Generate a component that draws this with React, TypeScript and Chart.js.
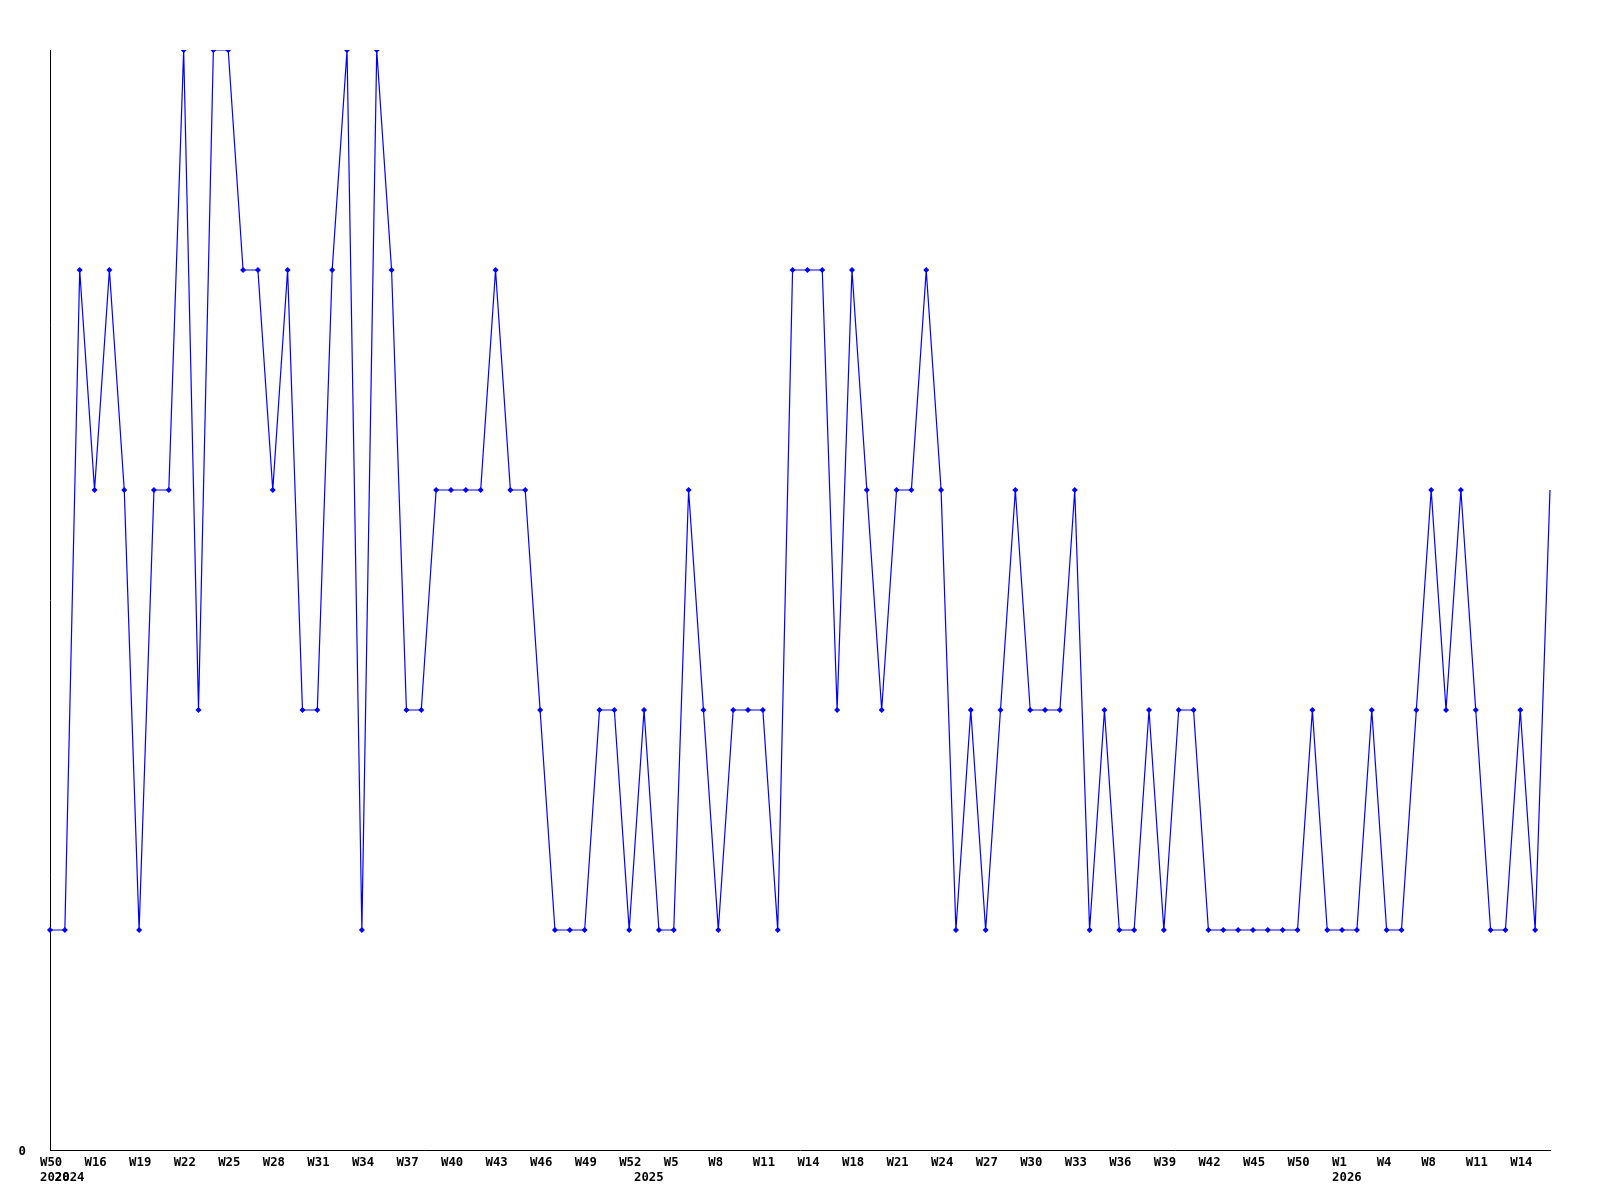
import React, { useEffect, useRef } from "react";
import { Chart, registerables } from "chart.js";

Chart.register(...registerables);

// Categories: year-week of each point
const categories: string[] = [
  "2020-W50",
  "2024-W14", "2024-W15", "2024-W16", "2024-W17", "2024-W18", "2024-W19", "2024-W20", "2024-W21", "2024-W22",
  "2024-W23", "2024-W24", "2024-W25", "2024-W26", "2024-W27", "2024-W28", "2024-W29", "2024-W30", "2024-W31",
  "2024-W32", "2024-W33", "2024-W34", "2024-W35", "2024-W36", "2024-W37", "2024-W38", "2024-W39", "2024-W40",
  "2024-W41", "2024-W42", "2024-W43", "2024-W44", "2024-W45", "2024-W46", "2024-W47", "2024-W48", "2024-W49",
  "2024-W50", "2024-W51", "2024-W52",
  "2025-W1", "2025-W3", "2025-W5", "2025-W6", "2025-W7", "2025-W8", "2025-W9", "2025-W10", "2025-W11",
  "2025-W12", "2025-W13", "2025-W14", "2025-W16", "2025-W17", "2025-W18", "2025-W19", "2025-W20", "2025-W21",
  "2025-W22", "2025-W23", "2025-W24", "2025-W25", "2025-W26", "2025-W27", "2025-W28", "2025-W29", "2025-W30",
  "2025-W31", "2025-W32", "2025-W33", "2025-W34", "2025-W35", "2025-W36", "2025-W37", "2025-W38", "2025-W39",
  "2025-W40", "2025-W41", "2025-W42", "2025-W43", "2025-W44", "2025-W45", "2025-W46", "2025-W48", "2025-W50",
  "2025-W51", "2025-W52",
  "2026-W1", "2026-W2", "2026-W3", "2026-W4", "2026-W5", "2026-W7", "2026-W8", "2026-W9", "2026-W10",
  "2026-W11", "2026-W12", "2026-W13", "2026-W14", "2026-W15", "2026-W16",
];

// Series values
const values: number[] = [
  1, 1, 4, 3, 4, 3, 1, 3, 3, 5,
  2, 5, 5, 4, 4, 3, 4, 2, 2, 4,
  5, 1, 5, 4, 2, 2, 3, 3, 3, 3,
  4, 3, 3, 2, 1, 1, 1, 2, 2, 1,
  2, 1, 1, 3, 2, 1, 2, 2, 2, 1,
  4, 4, 4, 2, 4, 3, 2, 3, 3, 4,
  3, 1, 2, 1, 2, 3, 2, 2, 2, 3,
  1, 2, 1, 1, 2, 1, 2, 2, 1, 1,
  1, 1, 1, 1, 1, 2, 1, 1, 1, 2,
  1, 1, 2, 3, 2, 3, 2, 1, 1, 2,
  1, 3,
];

// Y tick labels shown
const yTickLabels: number[] = [0];
const yMin = 0;
const yMax = 5;
const labelEvery = 3;

const FONT = { family: "'DejaVu Sans Mono', 'Liberation Mono', monospace", size: 12.3, weight: "bold" as const, lineHeight: 1.22 };

export default function App() {
  const canvasRef = useRef<HTMLCanvasElement | null>(null);

  useEffect(() => {
    const canvas = canvasRef.current;
    if (!canvas) return;
    const weeks = categories.map((c) => c.split("-")[1]);
    const years = categories.map((c) => c.split("-")[0]);
    const chart = new Chart(canvas, {
      type: "line",
      data: {
        labels: categories,
        datasets: [
          {
            data: values,
            borderColor: "#0000ff",
            backgroundColor: "#0000ff",
            borderWidth: 1.2,
            pointStyle: "rectRot",
            pointRadius: values.map((_, i) => (i === values.length - 1 ? 0 : 3)),
            pointBorderWidth: 0,
            pointBackgroundColor: "#0000ff",
            tension: 0,
            fill: false,
          },
        ],
      },
      options: {
        responsive: false,
        animation: false,
        devicePixelRatio: 1,
        layout: { padding: { left: 0, top: 50, right: 50, bottom: 0 } },
        plugins: { legend: { display: false }, tooltip: { enabled: false } },
        scales: {
          x: {
            type: "category",
            offset: false,
            grid: { display: false, drawTicks: false },
            border: { display: true, color: "#000000", width: 1 },
            afterFit: (scale: any) => {
              scale.height = 50;
            },
            ticks: {
              autoSkip: false,
              maxRotation: 0,
              minRotation: 0,
              align: "start",
              labelOffset: -10,
              padding: 5,
              color: "#000000",
              font: FONT,
              callback: (_v: any, i: number) => {
                const w = i % labelEvery === 0 ? weeks[i] : "";
                const showYear = i === 0 || years[i] !== years[i - 1];
                return showYear ? [w, years[i]] : w;
              },
            },
          },
          y: {
            min: yMin,
            max: yMax,
            grid: { display: false, drawTicks: false },
            border: { display: true, color: "#000000", width: 1 },
            afterFit: (scale: any) => {
              scale.width = 50;
            },
            afterBuildTicks: (scale: any) => {
              scale.ticks = yTickLabels.map((v) => ({ value: v }));
            },
            ticks: {
              padding: 24,
              labelOffset: 2,
              color: "#000000",
              font: FONT,
              callback: (v: any) => String(v),
            },
          },
        },
      },
    });
    return () => chart.destroy();
  }, []);

  return (
    <div style={{ position: "absolute", left: 0, top: 0, width: 1600, height: 1200, background: "#ffffff" }}>
      <canvas ref={canvasRef} width={1600} height={1200} style={{ width: 1600, height: 1200 }} />
    </div>
  );
}
